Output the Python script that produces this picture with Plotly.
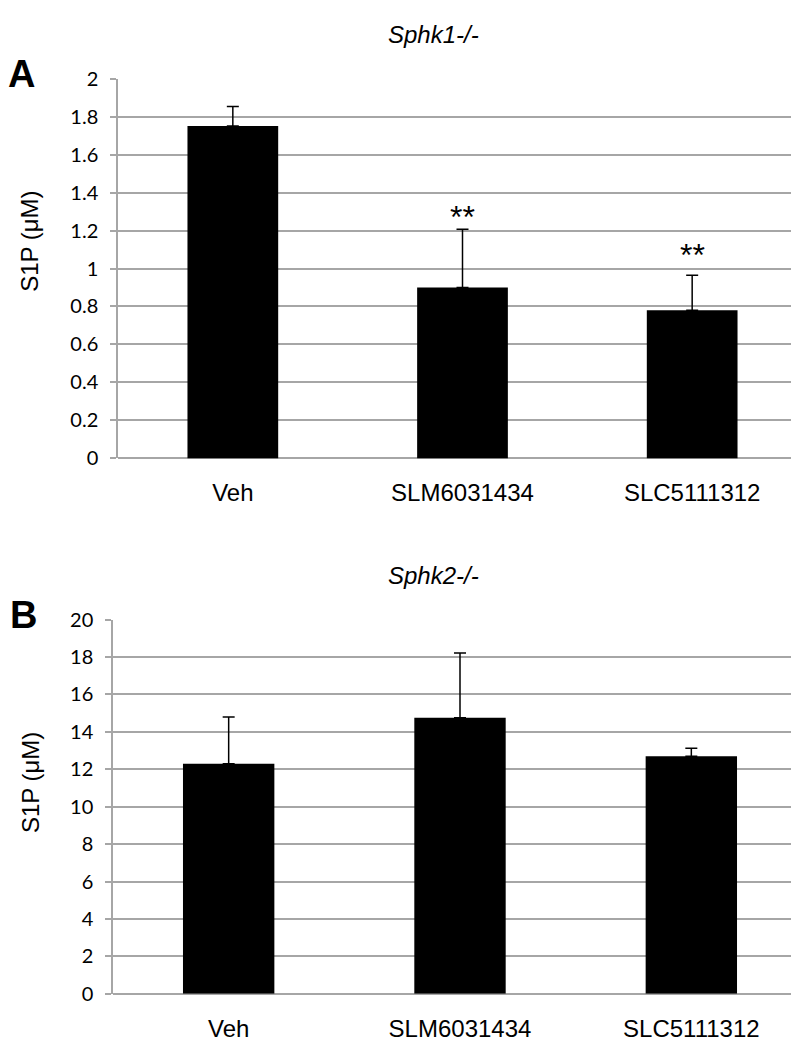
import plotly.graph_objects as go
from plotly.subplots import make_subplots

categories = ["Veh", "SLM6031434", "SLC5111312"]

# Panel A: Sphk1-/-
a_values = [1.75, 0.90, 0.78]
a_errors = [0.103, 0.307, 0.185]
a_ticks = [0, 0.2, 0.4, 0.6, 0.8, 1, 1.2, 1.4, 1.6, 1.8, 2]

# Panel B: Sphk2-/-
b_values = [12.3, 14.76, 12.7]
b_errors = [2.5, 3.45, 0.42]
b_ticks = [0, 2, 4, 6, 8, 10, 12, 14, 16, 18, 20]

W, H = 799, 1043
GRID = "#a6a6a6"
ARIAL = "Liberation Sans, Arial, sans-serif"
TICKF = "Lato, Calibri, sans-serif"

fig = make_subplots(rows=2, cols=1)

for i, (vals, errs) in enumerate([(a_values, a_errors), (b_values, b_errors)], start=1):
    fig.add_trace(go.Bar(
        x=categories, y=vals,
        marker=dict(color="black", line=dict(width=0)),
        error_y=dict(type="data", array=errs, arrayminus=[0] * len(errs), symmetric=False,
                     color="black", thickness=1.5, width=6),
        showlegend=False,
    ), row=i, col=1)


def py(px):
    return 1 - px / H


fig.update_layout(
    width=W, height=H,
    margin=dict(l=0, r=0, t=0, b=0),
    paper_bgcolor="white", plot_bgcolor="white",
    bargap=0.605,
    xaxis=dict(domain=[110 / W, 1], anchor="y"),
    yaxis=dict(domain=[py(447.7), py(59)], anchor="x", range=[0, 2], tickvals=a_ticks,
               ticktext=[f"{t:g}" for t in a_ticks]),
    xaxis2=dict(domain=[105 / W, 1], anchor="y2"),
    yaxis2=dict(domain=[py(995.7), py(612.7)], anchor="x2", range=[0, 20], tickvals=b_ticks,
                ticktext=[str(t) for t in b_ticks]),
)

fig.update_xaxes(showgrid=False, showline=False, ticks="", zeroline=False,
                 tickfont=dict(family=ARIAL, size=24, color="black"),
                 ticklabelstandoff=18, fixedrange=True)
fig.update_yaxes(showgrid=True, gridcolor=GRID, gridwidth=1.5,
                 showline=True, linecolor=GRID, linewidth=1.5,
                 zeroline=True, zerolinecolor=GRID, zerolinewidth=1.5,
                 ticks="outside", ticklen=6, tickcolor=GRID, tickwidth=1.5,
                 tickfont=dict(family=TICKF, size=20, color="black"),
                 ticklabelstandoff=8, fixedrange=True)

annotations = [
    dict(text="<b>A</b>", x=13 / W, y=py(54), font=dict(family=ARIAL, size=38, color="black")),
    dict(text="<b>B</b>", x=15 / W, y=py(608), font=dict(family=ARIAL, size=38, color="black")),
    dict(text="<i>Sphk1-/-</i>", x=425 / W, y=py(14), font=dict(family=ARIAL, size=24, color="black")),
    dict(text="<i>Sphk2-/-</i>", x=425 / W, y=py(568), font=dict(family=ARIAL, size=24, color="black")),
    dict(text="S1P (μM)", x=22 / W, y=py(226), textangle=-90, font=dict(family=ARIAL, size=24, color="black")),
    dict(text="S1P (μM)", x=22 / W, y=py(780), textangle=-90, font=dict(family=ARIAL, size=24, color="black")),
]
for a in annotations:
    a.update(xref="paper", yref="paper", showarrow=False, xanchor="center", yanchor="middle")

# significance stars above error bars of panel A
star_shift = {1: -8, 2: 0}
for idx, sh in star_shift.items():
    annotations.append(dict(
        text="**", x=categories[idx], y=a_values[idx] + a_errors[idx], xref="x", yref="y",
        showarrow=False, yanchor="bottom", yshift=sh,
        font=dict(family=ARIAL, size=32, color="black"),
    ))

fig.update_layout(annotations=annotations)

fig.write_html("out.html")
